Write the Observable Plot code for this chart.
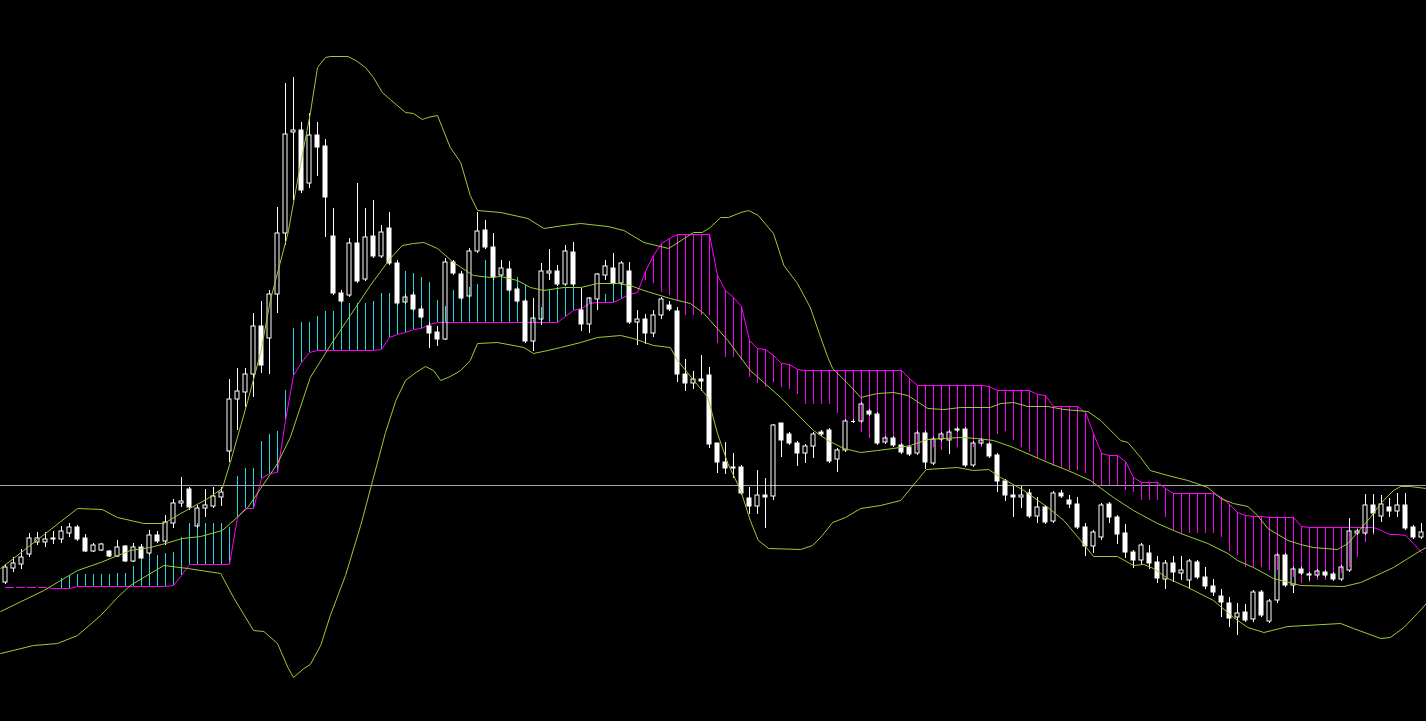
<!DOCTYPE html>
<html>
<head>
<meta charset="utf-8">
<script src="https://cdn.jsdelivr.net/npm/d3@7"></script>
<script src="https://cdn.jsdelivr.net/npm/@observablehq/plot@0.6"></script>
<style>
  html, body { margin: 0; padding: 0; background: #000; overflow: hidden; }
  #chart svg { display: block; }
</style>
</head>
<body>
<div id="chart"></div>
<script>
// ---- OHLC per bar (price units) ----
const opens = [
  139,153,157,167,179,179,182,182,188,194,
  183,170,171,170,165,175,160,174,168,186,
  180,198,218,232,195,213,215,224,270,322,
  329,347,395,383,427,488,589,591,538,586,
  575,485,428,426,478,442,485,465,493,458,
  419,426,412,395,389,382,459,447,425,470,
  491,474,446,452,432,420,380,402,448,450,
  437,469,411,397,422,446,453,438,450,399,
  402,388,406,416,410,347,338,342,346,278,
  259,254,254,223,215,226,225,298,287,278,
  268,275,289,291,262,271,300,300,310,307,
  279,283,276,274,268,288,258,282,281,291,
  292,256,278,277,266,240,226,224,228,205,
  214,200,228,221,217,194,175,184,217,204,
  188,169,161,168,159,142,158,148,141,159,
  144,135,125,118,104,109,102,129,100,121,
  166,136,152,146,146,149,147,142,151,188,
  188,216,205,214,210,216,194,184
];
const highs = [
  157,164,172,188,189,189,190,195,198,196,
  187,178,178,171,181,176,178,177,191,190,
  206,222,244,234,216,232,234,234,342,353,
  353,408,420,431,514,638,644,599,608,599,
  582,513,431,483,538,513,521,496,509,461,
  427,429,415,399,395,463,461,450,473,509,
  501,488,461,460,434,422,423,458,472,456,
  476,479,433,424,448,461,468,460,459,411,
  407,411,424,420,414,362,350,366,354,278,
  279,268,256,234,251,243,297,298,289,280,
  277,289,291,293,273,302,302,319,312,309,
  285,285,278,276,290,290,284,289,291,294,
  294,280,283,279,268,242,235,235,232,224,
  216,230,231,226,224,198,191,218,219,206,
  197,171,178,176,165,161,165,165,162,161,
  154,142,132,124,118,117,131,131,122,168,
  168,154,154,149,152,151,149,156,203,192,
  227,227,226,223,228,228,196,198
];
const lows = [
  137,149,152,164,176,174,177,178,184,180,
  169,169,170,164,164,159,159,162,166,178,
  176,193,214,211,193,204,213,215,259,291,
  314,324,348,347,408,476,521,528,533,545,
  484,426,418,424,438,440,463,463,456,416,
  417,410,402,373,375,381,446,421,423,468,
  472,441,444,429,418,378,370,396,441,435,
  435,435,390,388,411,441,436,436,397,376,
  377,384,402,410,339,330,332,330,273,248,
  247,243,226,207,207,193,221,264,276,255,
  258,263,285,258,249,269,298,298,305,276,
  277,274,267,265,266,252,256,280,267,289,
  254,254,276,263,229,220,204,213,203,198,
  197,198,223,213,192,165,168,181,198,177,
  163,153,157,152,138,132,139,141,133,142,
  132,125,104,94,86,99,99,104,98,118,
  134,128,146,141,144,144,140,140,149,186,
  186,188,199,204,204,191,182,182
];
const closes = [
  154,158,164,183,183,182,183,190,194,182,
  170,176,177,165,174,160,174,163,186,180,
  199,218,220,214,213,216,225,229,322,330,
  347,395,356,427,488,587,591,531,586,574,
  524,428,420,478,440,484,465,489,458,418,
  424,412,404,388,382,459,448,423,470,490,
  474,444,453,431,420,380,403,450,450,437,
  470,437,397,423,447,455,438,458,399,402,
  388,406,422,412,347,338,342,340,277,259,
  253,253,228,215,226,224,296,281,278,268,
  275,287,287,260,271,300,300,317,307,278,
  283,276,269,267,288,259,282,287,289,292,
  256,278,281,265,240,226,224,226,205,214,
  199,228,225,217,194,175,189,216,204,187,
  169,161,176,158,143,158,149,151,160,144,
  135,129,119,103,108,101,129,106,120,166,
  136,152,148,147,150,146,142,154,190,190,
  216,208,217,210,216,193,184,189
];

// ---- cloud spans ----
const cloudStart = 7; // first bar that has a Span A value
const spanA = [
  143,146,147,147,147,147,147,148,148,155,
  163,166,166,168,169,184,198,198,198,198,
  198,194,245,253,253,280,287,290,331,393,
  399,399,405,410,410,418,418,418,418,420,
  428,428,450,450,448,444,439,421,415,431,
  449,434,437,461,461,446,446,444,436,422,
  414,431,434,433,435,432,423,420,427,438,
  438,435,429,441,438,429,426,421,406,406,
  406,406,378,364,364,361,344,338,334,339,
  334,332,327,317,317,317,317,308,300,300,
  289,283,279,278,276,270,270,271,274,274,
  271,273,274,276,274,274,278,287,290,281,
  274,269,263,261,255,253,251,251,248,236,
  236,236,236,231,229,221,221,221,204,191,
  187,188,188,188,188,184,170,166,154,154,
  154,151,151,144,144,138,139,141,141,141,
  148,154,164,179,186
];
const spanB = [
  134,134,134,134,134,134,133,133,133,135,
  135,135,135,135,135,135,135,135,135,135,
  135,136,146,157,157,157,157,157,157,204,
  213,213,243,248,249,301,346,359,369,371,
  371,371,371,371,371,371,371,372,384,387,
  389,392,393,397,399,399,399,399,399,399,
  399,399,399,399,399,399,399,399,399,399,
  405,411,413,418,419,419,419,423,427,429,
  450,466,478,483,487,487,487,487,487,446,
  431,424,415,381,373,372,366,358,357,352,
  351,351,351,351,351,351,351,351,351,351,
  351,351,351,343,336,336,336,336,336,336,
  336,336,336,335,331,331,331,331,331,327,
  326,315,315,315,315,309,288,268,266,266,
  260,244,239,239,239,233,228,228,228,228,
  228,228,224,217,209,206,205,205,204,204,
  204,204,195,194,194,194,194,194,194,194,
  194,194,191,187,187,186,178,169
];
const dashedBars = 7; // Span B drawn dashed over the first bars

// ---- Bollinger bands: [bar, price] points ----
const upperBand = [[-0.6,153],[9,213],[12.1,212],[14,204],[17.3,198],[19.8,198],[21.9,208],[25.3,223],[27.1,233],[28.1,259],[30.3,321],[31.9,369],[33.1,421],[35.3,488],[36.9,558],[38.1,608],[39,654],[40,664],[40.6,665],[42.8,665],[43.8,661],[45,654],[46,644],[47.1,629],[48.1,622],[50,609],[51,608],[52.1,602],[52.8,604],[54,606],[55.6,574],[56.9,559],[58.1,526],[59,511],[61.9,509],[65.3,503],[67.3,493],[69.8,496],[71.9,498],[75.3,495],[77.3,491],[79.8,479],[82.9,473],[86,489],[87.1,489],[88.1,494],[89.4,504],[90.4,504],[91.9,509],[92.9,511],[94.1,506],[96,488],[97.3,456],[99,438],[100.6,414],[101.9,384],[102.8,364],[103.4,353],[105.3,338],[106.9,324],[109,328],[111,329],[112.8,326],[115.3,313],[117.3,312],[119.4,314],[123.1,314],[124.4,318],[126,319],[127.8,315],[130.3,315],[132.3,312],[135.3,310],[136.9,301],[139.4,281],[140.3,279],[141.9,264],[143.1,251],[145.3,246],[147.8,241],[150.3,234],[151.9,223],[153.5,218],[155.3,215],[156.5,206],[157.8,193],[160.3,181],[161.9,177],[163.5,174],[166.5,172],[167.8,178],[169,189],[170.6,204],[171.9,218],[173.5,231],[174.4,235],[175.6,235],[177.6,233]];
const middleBand = [[-0.6,110],[4.8,131],[9,151],[11.9,159],[15.6,171],[18.1,174],[20,178],[22.1,183],[24.4,185],[27.1,191],[28.1,198],[30.3,214],[31.9,233],[34,258],[35.6,284],[38.1,344],[40.6,376],[43.1,406],[45.6,436],[48.1,463],[49.6,476],[51,478],[52.3,479],[54,473],[56,459],[58.5,446],[60.6,444],[61.9,445],[64,441],[65.6,434],[67.3,431],[69.8,434],[71.9,434],[74,438],[76.5,438],[78.1,436],[79.8,431],[83.1,423],[85.6,418],[87.3,408],[90.3,381],[93.1,351],[96.9,324],[101,291],[102.8,281],[104.8,273],[106.9,269],[109,271],[111,273],[113.1,276],[115.3,282],[117.3,283],[119.4,284],[121.5,283],[123.5,281],[126,274],[130.3,259],[132.8,251],[135.6,241],[138.5,224],[141,211],[144,198],[146.9,188],[150.3,178],[152.8,168],[154,161],[156,154],[158.5,143],[161.9,136],[167.3,135],[169.4,139],[171.9,148],[173.5,154],[175.3,163],[176.9,171],[177.6,174]];
const lowerBand = [[-0.6,68],[3.5,76],[6.5,78],[9,86],[11.9,106],[14,124],[15.6,136],[19.8,156],[22.8,153],[26.9,148],[28.5,124],[31,91],[32.3,90],[34,78],[35.3,54],[36,44],[37.3,53],[38.1,57],[39.4,76],[40.6,106],[42.5,146],[44.4,196],[45.9,241],[47.5,289],[48.8,321],[50,341],[51.3,349],[52.5,355],[53.5,351],[54.4,341],[55.6,345],[56.9,351],[58.1,361],[59,378],[61.5,379],[64.8,374],[66,368],[67.8,371],[69.4,374],[71.9,379],[74,384],[76.9,386],[78.5,383],[81,376],[83.1,374],[84,361],[87.8,324],[89,288],[90.3,258],[91.9,231],[93.1,201],[94.1,181],[95.4,173],[99.4,172],[100.9,176],[102.1,186],[103.4,199],[105,204],[106.9,213],[109.4,216],[111.9,221],[115.1,252],[119,254],[121,251],[122.9,252],[124.4,244],[127.3,231],[130.3,214],[132.3,201],[134.4,181],[136,165],[139,165],[141,156],[142.3,157],[143.5,153],[145.3,143],[147.8,134],[151,121],[153.5,104],[155.3,94],[157.3,89],[160.3,95],[166.9,98],[168.5,93],[171.9,83],[173.1,84],[174.8,94],[176.5,108],[177.6,118]];

const levelLine = 236;

// ---- build tables ----
const candles = opens.map((o, i) => ({i, o, h: highs[i], l: lows[i], c: closes[i]}));
const bodyTop = d => Math.max(d.o, d.c);
const bodyBot = d => Math.min(d.o, d.c);
const upBars = candles.filter(d => d.c > d.o);
const downBars = candles.filter(d => d.c < d.o);
const dojis = candles.filter(d => d.c === d.o);
const hatch = spanA.map((a, k) => ({i: k + cloudStart, a, b: spanB[k + cloudStart]}));
const spanBPts = spanB.map((b, i) => ({i, b}));
const half = 0.25;

const chart = Plot.plot({
  width: 1426,
  height: 721,
  margin: 0,
  style: {background: "#000"},
  x: {type: "linear", domain: [-0.625, 177.625], axis: null},
  y: {type: "linear", domain: [0, 721], axis: null},
  marks: [
    Plot.ruleY([levelLine], {stroke: "#a4a4ac", strokeWidth: 1}),
    Plot.ruleX(hatch, {x: "i", y1: "b", y2: "a", stroke: d => d.a >= d.b ? "#1ed8ec" : "#ff00ff", strokeWidth: 1}),
    Plot.line(spanBPts.slice(0, dashedBars), {x: "i", y: "b", stroke: "#ff00ff", strokeWidth: 1, strokeDasharray: "8,3"}),
    Plot.line(spanBPts.slice(dashedBars - 1), {x: "i", y: "b", stroke: "#ff00ff", strokeWidth: 1}),
    // wicks
    Plot.ruleX(candles, {x: "i", y1: "h", y2: bodyTop, stroke: "#fff", strokeWidth: 1}),
    Plot.ruleX(candles, {x: "i", y1: bodyBot, y2: "l", stroke: "#fff", strokeWidth: 1}),
    // bodies
    Plot.rect(upBars, {x1: d => d.i - half, x2: d => d.i + half, y1: "o", y2: "c", fill: "none", stroke: "#fff", strokeWidth: 1}),
    Plot.rect(downBars, {x1: d => d.i - half, x2: d => d.i + half, y1: "o", y2: "c", fill: "#fff", stroke: "#fff", strokeWidth: 1}),
    Plot.ruleY(dojis, {y: "o", x1: d => d.i - half, x2: d => d.i + half, stroke: "#fff", strokeWidth: 1}),
    // Bollinger bands
    Plot.line(upperBand, {x: d => d[0], y: d => d[1], stroke: "#9acd32", strokeWidth: 1}),
    Plot.line(middleBand, {x: d => d[0], y: d => d[1], stroke: "#9acd32", strokeWidth: 1}),
    Plot.line(lowerBand, {x: d => d[0], y: d => d[1], stroke: "#9acd32", strokeWidth: 1})
  ]
});
document.getElementById("chart").appendChild(chart);
</script>
</body>
</html>
